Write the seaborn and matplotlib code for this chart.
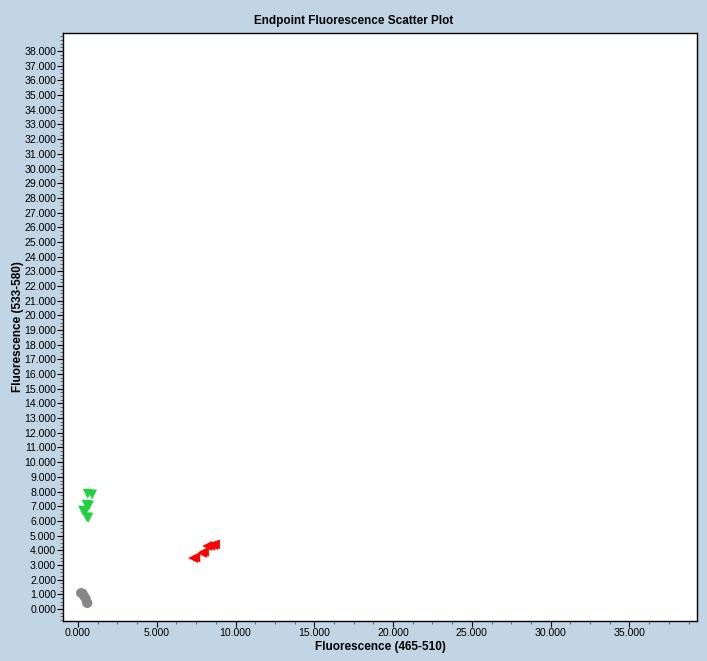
import numpy as np
import pandas as pd
import matplotlib
matplotlib.use("Agg")
import matplotlib.pyplot as plt
from matplotlib.ticker import MultipleLocator, FormatStrFormatter
import seaborn as sns

# Endpoint fluorescence readings (in thousands)
green_x = [0.62, 0.90, 0.55, 0.70, 0.32, 0.45, 0.57, 0.65]
green_y = [7.85, 7.80, 7.10, 7.05, 6.70, 6.60, 6.25, 6.20]
red_x = [7.30, 7.45, 7.88, 8.00, 8.20, 8.40, 8.58, 8.70]
red_y = [3.47, 3.50, 3.81, 3.90, 4.29, 4.30, 4.36, 4.40]
grey_x = [0.19, 0.30, 0.40, 0.50, 0.57, 0.60]
grey_y = [1.09, 1.05, 0.85, 0.70, 0.45, 0.40]

df = pd.concat([
    pd.DataFrame({"x": green_x, "y": green_y, "grp": "green"}),
    pd.DataFrame({"x": red_x, "y": red_y, "grp": "red"}),
    pd.DataFrame({"x": grey_x, "y": grey_y, "grp": "grey"}),
], ignore_index=True)

sns.set_style("ticks")
plt.rcParams['font.family'] = ['Liberation Sans', 'DejaVu Sans']
plt.rcParams['text.color'] = 'black'
plt.rcParams['axes.labelcolor'] = 'black'
plt.rcParams['xtick.color'] = 'black'
plt.rcParams['ytick.color'] = 'black'

bg = "#c1d5e5"
fig = plt.figure(figsize=(7.07, 6.61), dpi=100, facecolor=bg)
ax = fig.add_axes([0.0891, 0.0605, 0.897, 0.8896])
ax.set_facecolor("white")

sns.scatterplot(data=df, x="x", y="y", hue="grp", style="grp",
                palette={"green": "#1fd13f", "red": "#ff0000", "grey": "#878787"},
                markers={"green": "v", "red": "<", "grey": "o"},
                s=50, linewidth=0, legend=False, ax=ax)

ax.set_xlim(-0.95, 39.3)
ax.set_ylim(-0.82, 39.23)
ax.set_xticks(np.arange(0, 36, 5))
ax.set_yticks(np.arange(0, 39, 1))
ax.xaxis.set_minor_locator(MultipleLocator(1.25))
ax.yaxis.set_minor_locator(MultipleLocator(0.25))
ax.xaxis.set_major_formatter(FormatStrFormatter("%.3f"))
ax.yaxis.set_major_formatter(FormatStrFormatter("%.3f"))
ax.tick_params(axis="both", which="major", length=4, width=0.8, labelsize=7.6, pad=1)
ax.tick_params(axis="both", which="minor", length=2, width=0.6, color="#555555")

for sp in ax.spines.values():
    sp.set_color("black")
    sp.set_linewidth(1)

bold = dict(fontsize=8.5, fontweight="bold")
ax.set_xlabel("Fluorescence (465-510)", labelpad=2, **bold)
ax.set_ylabel("Fluorescence (533-580)", **bold)
ax.yaxis.set_label_coords(-0.062, 0.5)
fig.suptitle("Endpoint Fluorescence Scatter Plot", y=0.978, **bold)

fig.savefig("out.png", dpi=100, facecolor=bg)
